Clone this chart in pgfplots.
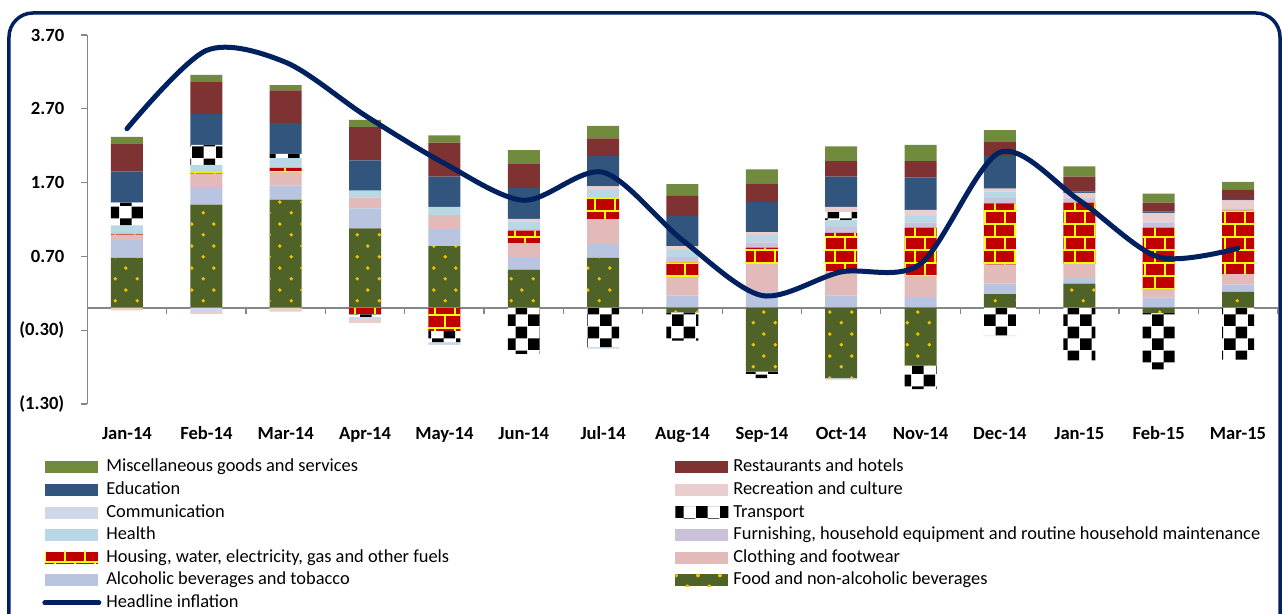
\documentclass[border=0pt]{standalone}
\usepackage{fontspec}
\setmainfont{Carlito}
\usepackage{pgfplots}
\usepackage{pgfplotstable}
\pgfplotsset{compat=1.18}
\usetikzlibrary{patterns}

\definecolor{cMisc}{HTML}{708B3D}
\definecolor{cRest}{HTML}{7E3232}
\definecolor{cEdu}{HTML}{31557D}
\definecolor{cRec}{HTML}{EACDCE}
\definecolor{cCom}{HTML}{CED8EA}
\definecolor{cHea}{HTML}{B7D8E4}
\definecolor{cFur}{HTML}{CCC1DA}
\definecolor{cClo}{HTML}{E3BABA}
\definecolor{cAlc}{HTML}{B9C4E0}
\definecolor{cFood}{HTML}{4F6228}
\definecolor{cDot}{HTML}{F2C200}
\definecolor{cHouse}{HTML}{C00000}
\definecolor{cMortar}{HTML}{FFFF00}
\definecolor{cLine}{HTML}{002060}
\definecolor{axgray}{HTML}{868686}

%% patterns for the three textured series
\pgfdeclarepatternformonly{ppdots}{\pgfqpoint{0pt}{0pt}}{\pgfqpoint{11pt}{11pt}}{\pgfqpoint{11pt}{11pt}}{%
  \pgfpathcircle{\pgfqpoint{2.75pt}{2.75pt}}{1pt}%
  \pgfpathcircle{\pgfqpoint{8.25pt}{8.25pt}}{1pt}%
  \pgfusepath{fill}}
\pgfdeclarepatternformonly{ppbrick}{\pgfqpoint{-1pt}{-1pt}}{\pgfqpoint{11pt}{14pt}}{\pgfqpoint{10pt}{13pt}}{%
  \pgfsetlinewidth{1.3pt}%
  \pgfpathmoveto{\pgfqpoint{0pt}{0pt}}\pgfpathlineto{\pgfqpoint{10pt}{0pt}}%
  \pgfpathmoveto{\pgfqpoint{0pt}{6.5pt}}\pgfpathlineto{\pgfqpoint{10pt}{6.5pt}}%
  \pgfpathmoveto{\pgfqpoint{0pt}{13pt}}\pgfpathlineto{\pgfqpoint{10pt}{13pt}}%
  \pgfpathmoveto{\pgfqpoint{2.5pt}{0pt}}\pgfpathlineto{\pgfqpoint{2.5pt}{6.5pt}}%
  \pgfpathmoveto{\pgfqpoint{7.5pt}{6.5pt}}\pgfpathlineto{\pgfqpoint{7.5pt}{13pt}}%
  \pgfusepath{stroke}}
\pgfdeclarepatternformonly{ppcheck}{\pgfqpoint{0pt}{0pt}}{\pgfqpoint{12pt}{12pt}}{\pgfqpoint{12pt}{12pt}}{%
  \pgfpathrectangle{\pgfqpoint{0pt}{0pt}}{\pgfqpoint{6pt}{6pt}}%
  \pgfpathrectangle{\pgfqpoint{6pt}{6pt}}{\pgfqpoint{6pt}{6pt}}%
  \pgfusepath{fill}}

\tikzset{
  sFood/.style={fill=cFood, postaction={pattern=ppdots, pattern color=cDot}},
  sHouse/.style={fill=cHouse, postaction={pattern=ppbrick, pattern color=cMortar}},
  sTrans/.style={fill=white, postaction={pattern=ppcheck, pattern color=black}},
}
\pgfplotsset{
  swatch/.style={legend image code/.code={%
    \path[##1, draw=none] (0pt,-3pt) rectangle (26.5pt,3pt);}},
  hlswatch/.style={legend image code/.code={\draw[##1] (0pt,0pt) -- (27pt,0pt);}},
  common/.style={
    scale only axis, width=595.2pt, height=184.5pt,
    xmin=-0.5, xmax=14.5, ymin=-1.3, ymax=3.7,
    enlargelimits=false,
    ybar stacked, bar width=16pt,
    legend cell align=left,
    legend style={draw=none, fill=none, inner sep=0pt, row sep=1.8pt,
      font=\lf, nodes={inner sep=0.5pt, text height=6.5pt, text depth=2pt},
      /tikz/every odd column/.append style={column sep=2pt}},
  },
}
\newcommand\tf{\fontsize{9.3}{11}\selectfont\bfseries}
\newcommand\lf{\fontsize{9.2}{11}\selectfont}

% contributions to headline inflation (percentage points), months 0..14 = Jan-14..Mar-15
\pgfplotstableread{
x  F     A    C    H     Fu   He   T     Co    R     E    Re   M    HL
0  0.68  0.24 0.07 0.01  0.02 0.10 0.31  0     -0.03 0.42 0.37 0.10 2.43
1  1.40  0.24 0.18 0.02  0    0.10 0.27  -0.04 -0.04 0.42 0.43 0.10 3.49
2  1.47  0.19 0.18 0.06  0    0.13 0.06  0     -0.05 0.42 0.44 0.07 3.33
3  1.08  0.27 0.15 -0.08 0    0.09 -0.04 -0.04 -0.04 0.41 0.45 0.10 2.61
4  0.84  0.23 0.19 -0.31 0    0.11 -0.15 -0.04 0    0.41 0.46 0.10 1.96
5  0.52  0.17 0.19 0.17  0.02 0.10 -0.62 0     0.04  0.42 0.33 0.18 1.46
6  0.68  0.19 0.33 0.29  0.01 0.10 -0.53 -0.02 0.05  0.41 0.24 0.17 1.84
7  -0.06 0.17 0.25 0.20  0.07 0.10 -0.38 0     0.05  0.41 0.27 0.16 0.92
8  -0.86 0.22 0.38 0.22  0.07 0.10 -0.09 0     0.04  0.41 0.25 0.19 0.17
9  -0.95 0.17 0.33 0.52  0.08 0.09 0.11  -0.02 0.07  0.41 0.21 0.20 0.49
10 -0.78 0.15 0.28 0.66  0.07 0.09 -0.32 0     0.08  0.44 0.22 0.22 0.60
11 0.19  0.14 0.26 0.83  0.07 0.09 -0.37 -0.01 0.04  0.44 0.19 0.16 2.11
12 0.33  0.08 0.19 0.83  0.05 0.01 -0.71 0     0.07  0.02 0.20 0.14 1.46
13 -0.07 0.14 0.12 0.83  0.07 0.01 -0.76 0     0.12  0.02 0.12 0.12 0.69
14 0.22  0.10 0.14 0.86  0.03 0    -0.70 0     0.11  0.02 0.12 0.11 0.81
}\datatable

\begin{document}
\begin{tikzpicture}
\useasboundingbox (-43.65pt,-105pt) rectangle (597.35pt,202pt);
\clip (-43.65pt,-105pt) rectangle (597.35pt,202pt);
\draw[cLine, line width=1.75pt, rounded corners=12pt]
  (-39.15pt,-130pt) rectangle (596.35pt,195.5pt);

%% positive contributions
\begin{axis}[common,
  axis y line*=left, axis x line*=bottom,
  x axis line style={draw=none},
  y axis line style={draw=axgray, line width=0.6pt},
  ytick={-1.3,-0.3,0.7,1.7,2.7,3.7},
  yticklabels={(1.30),(0.30),0.70,1.70,2.70,3.70},
  xtick={0,...,14},
  xticklabels={Jan-14,Feb-14,Mar-14,Apr-14,May-14,Jun-14,Jul-14,Aug-14,
    Sep-14,Oct-14,Nov-14,Dec-14,Jan-15,Feb-15,Mar-15},
  tick align=outside, major tick length=3pt,
  xtick style={draw=none},
  ytick style={draw=axgray, line width=0.6pt},
  ticklabel style={font=\tf},
  xticklabel style={yshift=-4pt, text height=7pt, text depth=0pt},
  yticklabel style={xshift=-5pt},
  legend style={at={(-0.0381,-0.145)}, anchor=north west},
]
\addplot[sFood, draw=none, forget plot] table[x=x, y expr={max(\thisrow{F},0)}] {\datatable};
\addplot[fill=cAlc, draw=none, forget plot] table[x=x, y expr={max(\thisrow{A},0)}] {\datatable};
\addplot[fill=cClo, draw=none, forget plot] table[x=x, y expr={max(\thisrow{C},0)}] {\datatable};
\addplot[sHouse, draw=none, forget plot] table[x=x, y expr={max(\thisrow{H},0)}] {\datatable};
\addplot[fill=cFur, draw=none, forget plot] table[x=x, y expr={max(\thisrow{Fu},0)}] {\datatable};
\addplot[fill=cHea, draw=none, forget plot] table[x=x, y expr={max(\thisrow{He},0)}] {\datatable};
\addplot[sTrans, draw=none, forget plot] table[x=x, y expr={max(\thisrow{T},0)}] {\datatable};
\addplot[fill=cCom, draw=none, forget plot] table[x=x, y expr={max(\thisrow{Co},0)}] {\datatable};
\addplot[fill=cRec, draw=none, forget plot] table[x=x, y expr={max(\thisrow{R},0)}] {\datatable};
\addplot[fill=cEdu, draw=none, forget plot] table[x=x, y expr={max(\thisrow{E},0)}] {\datatable};
\addplot[fill=cRest, draw=none, forget plot] table[x=x, y expr={max(\thisrow{Re},0)}] {\datatable};
\addplot[fill=cMisc, draw=none, forget plot] table[x=x, y expr={max(\thisrow{M},0)}] {\datatable};

\addlegendimage{swatch, fill=cMisc, draw=none}
\addlegendentry{Miscellaneous goods and services}
\addlegendimage{swatch, fill=cEdu, draw=none}
\addlegendentry{Education}
\addlegendimage{swatch, fill=cCom, draw=none}
\addlegendentry{Communication}
\addlegendimage{swatch, fill=cHea, draw=none}
\addlegendentry{Health}
\addlegendimage{swatch, sHouse, draw=none}
\addlegendentry{Housing, water, electricity, gas and other fuels}
\addlegendimage{swatch, fill=cAlc, draw=none}
\addlegendentry{Alcoholic beverages and tobacco}
\addlegendimage{hlswatch, draw=cLine, line width=2.5pt, line cap=round}
\addlegendentry{Headline inflation}
\end{axis}

%% negative contributions, zero line and headline
\begin{axis}[common,
  axis y line=none, axis x line=middle,
  axis line style={-},
  x axis line style={draw=axgray, line width=0.6pt, -},
  ytick=\empty,
  xtick={-0.5,0.5,...,14.5}, xticklabels={},
  tick align=outside, major tick length=3pt,
  xtick style={draw=axgray, line width=0.6pt},
  legend style={at={(0.4937,-0.145)}, anchor=north west},
]
\addplot[sFood, draw=none, forget plot] table[x=x, y expr={min(\thisrow{F},0)}] {\datatable};
\addplot[fill=cAlc, draw=none, forget plot] table[x=x, y expr={min(\thisrow{A},0)}] {\datatable};
\addplot[fill=cClo, draw=none, forget plot] table[x=x, y expr={min(\thisrow{C},0)}] {\datatable};
\addplot[sHouse, draw=none, forget plot] table[x=x, y expr={min(\thisrow{H},0)}] {\datatable};
\addplot[fill=cFur, draw=none, forget plot] table[x=x, y expr={min(\thisrow{Fu},0)}] {\datatable};
\addplot[fill=cHea, draw=none, forget plot] table[x=x, y expr={min(\thisrow{He},0)}] {\datatable};
\addplot[sTrans, draw=none, forget plot] table[x=x, y expr={min(\thisrow{T},0)}] {\datatable};
\addplot[fill=cCom, draw=none, forget plot] table[x=x, y expr={min(\thisrow{Co},0)}] {\datatable};
\addplot[fill=cRec, draw=none, forget plot] table[x=x, y expr={min(\thisrow{R},0)}] {\datatable};
\addplot[fill=cEdu, draw=none, forget plot] table[x=x, y expr={min(\thisrow{E},0)}] {\datatable};
\addplot[fill=cRest, draw=none, forget plot] table[x=x, y expr={min(\thisrow{Re},0)}] {\datatable};
\addplot[fill=cMisc, draw=none, forget plot] table[x=x, y expr={min(\thisrow{M},0)}] {\datatable};

\addplot[sharp plot, smooth, stack plots=false, draw=cLine, line width=2.5pt,
  line cap=round, mark=none, forget plot] table[x=x, y=HL] {\datatable};

\addlegendimage{swatch, fill=cRest, draw=none}
\addlegendentry{Restaurants and hotels}
\addlegendimage{swatch, fill=cRec, draw=none}
\addlegendentry{Recreation and culture}
\addlegendimage{swatch, sTrans, draw=none}
\addlegendentry{Transport}
\addlegendimage{swatch, fill=cFur, draw=none}
\addlegendentry{Furnishing, household equipment and routine household maintenance}
\addlegendimage{swatch, fill=cClo, draw=none}
\addlegendentry{Clothing and footwear}
\addlegendimage{swatch, sFood, draw=none}
\addlegendentry{Food and non-alcoholic beverages}
\end{axis}
\end{tikzpicture}
\end{document}
